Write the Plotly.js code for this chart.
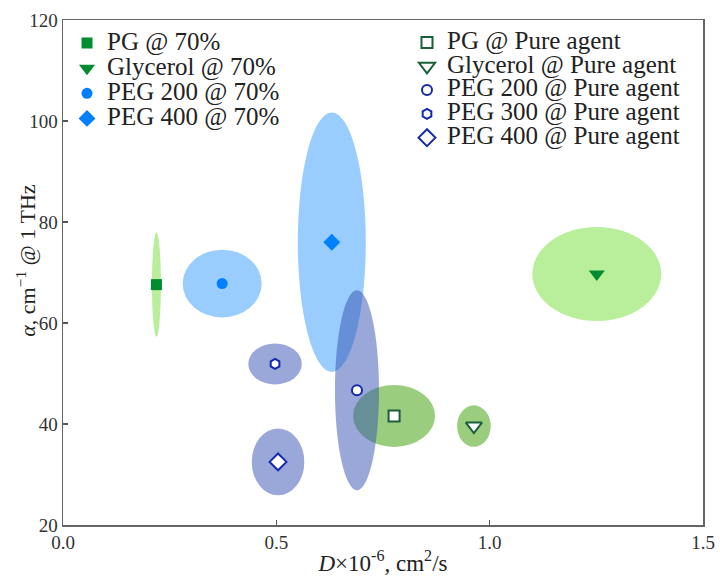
<!DOCTYPE html>
<html>
<head>
<meta charset="utf-8">
<script src="https://cdn.plot.ly/plotly-3.0.1.min.js"></script>
<style>html,body{margin:0;padding:0;background:#fff;}#chart{width:720px;height:583px;}</style>
</head>
<body>
<div id="chart"></div>
<script>
// ---- data ----
const names70 = ['PG @ 70%', 'Glycerol @ 70%', 'PEG 200 @ 70%', 'PEG 400 @ 70%'];
const D70 = [0.219, 1.251, 0.373, 0.630];
const alpha70 = [67.6, 69.7, 67.8, 76.0];
const D70Err = [0.0105, 0.151, 0.0926, 0.0797];
const alpha70Err = [10.3, 9.3, 6.7, 25.7];

const namesPure = ['PG @ Pure agent', 'Glycerol @ Pure agent', 'PEG 200 @ Pure agent', 'PEG 300 @ Pure agent', 'PEG 400 @ Pure agent'];
const DPure = [0.776, 0.963, 0.689, 0.497, 0.504];
const alphaPure = [41.6, 39.6, 46.7, 51.9, 32.5];
const DPureErr = [0.096, 0.0394, 0.0516, 0.0626, 0.0616];
const alphaPureErr = [6.14, 4.1, 19.8, 4.06, 6.6];

const xTickVals = [0, 0.5, 1.0, 1.5];
const xTickText = ['0.0', '0.5', '1.0', '1.5'];
const yTickVals = [20, 40, 60, 80, 100, 120];
const xTitle = '<i>D</i>×10<sup>-6</sup>, cm<sup>2</sup>/s';
const yTitle = '<i>α</i>, cm<sup>−1</sup> @ 1 THz';

// ---- styles ----
const SERIF = 'Liberation Serif';
const sym70 = ['square', 'triangle-down', 'circle', 'diamond'];
const col70 = ['rgb(0,140,48)', 'rgb(0,140,48)', 'rgb(0,128,255)', 'rgb(0,128,255)'];
const size70 = [11, 14, 11, 13];
const ell70 = ['rgba(115,221,55,0.5)', 'rgba(115,221,55,0.5)', 'rgba(51,153,255,0.5)', 'rgba(51,153,255,0.5)'];

const symPure = ['square', 'triangle-down', 'circle', 'hexagon', 'diamond'];
const colPure = ['rgb(25,95,55)', 'rgb(25,95,55)', 'rgb(20,40,170)', 'rgb(20,40,170)', 'rgb(20,40,170)'];
const sizePure = [11, 14, 10, 10, 13];
const ellPure = ['rgba(55,155,0,0.5)', 'rgba(55,155,0,0.5)', 'rgba(51,82,178,0.5)', 'rgba(51,82,178,0.5)', 'rgba(51,82,178,0.5)'];

function legendText(s) {
  return '<span style="font-size:25px">' + s + '</span>';
}

const traces = [];
const shapes = [];

function ellipse(cx, cy, rx, ry, color) {
  return {type: 'circle', xref: 'x', yref: 'y', x0: cx - rx, x1: cx + rx, y0: cy - ry, y1: cy + ry,
          fillcolor: color, line: {width: 0}, layer: 'below'};
}

names70.forEach((n, i) => {
  shapes.push(ellipse(D70[i], alpha70[i], D70Err[i], alpha70Err[i], ell70[i]));
  traces.push({type: 'scatter', mode: 'markers', name: legendText(n), x: [D70[i]], y: [alpha70[i]],
    marker: {symbol: sym70[i], size: size70[i], color: col70[i], line: {width: 0}},
    legend: 'legend'});
});
namesPure.forEach((n, i) => {
  shapes.push(ellipse(DPure[i], alphaPure[i], DPureErr[i], alphaPureErr[i], ellPure[i]));
  traces.push({type: 'scatter', mode: 'markers', name: legendText(n), x: [DPure[i]], y: [alphaPure[i]],
    marker: {symbol: symPure[i], size: sizePure[i], color: '#ffffff', line: {width: 2, color: colPure[i]}},
    legend: 'legend2'});
});

const layout = {
  width: 720, height: 583,
  margin: {l: 63, r: 17, t: 20, b: 58},
  paper_bgcolor: '#fff', plot_bgcolor: '#fff',
  font: {family: SERIF, color: '#222'},
  showlegend: true,
  legend: {x: 0.00625, y: 0.989, xanchor: 'left', yanchor: 'top', bgcolor: 'rgba(0,0,0,0)',
           font: {family: SERIF, size: 17, color: '#222'}, tracegroupgap: 0},
  legend2: {x: 0.5375, y: 0.989, xanchor: 'left', yanchor: 'top', bgcolor: 'rgba(0,0,0,0)',
           font: {family: SERIF, size: 16, color: '#222'}, tracegroupgap: 0},
  xaxis: {range: [0, 1.5], tickvals: xTickVals, ticktext: xTickText, ticks: 'inside', ticklen: 5,
          tickcolor: '#555', tickwidth: 1.2, showline: true, linecolor: '#666', linewidth: 1.5, mirror: true,
          showgrid: false, zeroline: false, tickfont: {family: SERIF, size: 19, color: '#333'},
          title: {text: xTitle, font: {family: SERIF, size: 23, color: '#222'}, standoff: 2}},
  yaxis: {range: [20, 120], tickvals: yTickVals, ticks: 'inside', ticklen: 5,
          tickcolor: '#555', tickwidth: 1.2, showline: true, linecolor: '#666', linewidth: 1.5, mirror: true,
          showgrid: false, zeroline: false, tickfont: {family: SERIF, size: 19, color: '#333'}},
  annotations: [{text: yTitle, xref: 'paper', yref: 'paper', x: -0.058, y: 0.525,
                 xanchor: 'center', yanchor: 'middle', textangle: -90, showarrow: false,
                 font: {family: SERIF, size: 22, color: '#222'}}],
  shapes: shapes
};

Plotly.newPlot('chart', traces, layout, {displayModeBar: false, staticPlot: true});
</script>
</body>
</html>
